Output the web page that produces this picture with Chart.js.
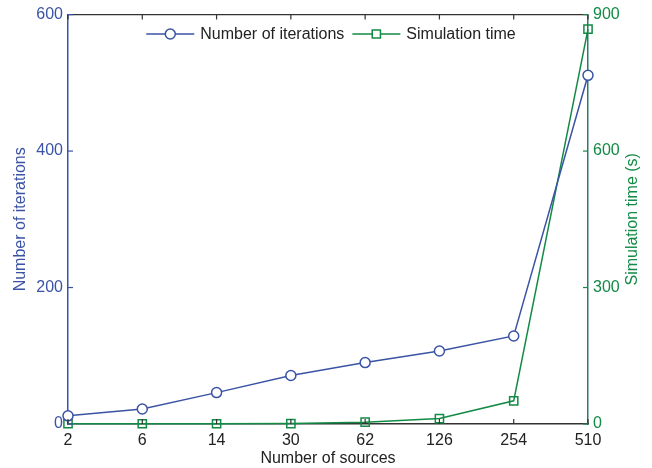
<!DOCTYPE html>
<html>
<head>
<meta charset="utf-8">
<script src="https://cdn.jsdelivr.net/npm/chart.js@4"></script>
<style>
  body { margin: 0; background: #fff; }
  #wrap { width: 652px; height: 468px; }
</style>
</head>
<body>
<div id="wrap"><canvas id="chart" width="652" height="468"></canvas></div>
<script>
// data
const sources = ['2', '6', '14', '30', '62', '126', '254', '510'];
const iterations = [12, 22, 46, 71, 90, 107, 129, 511];
const simTime = [0.5, 0.5, 0.5, 1, 4, 12, 51, 868];
const leftTicks = [0, 200, 400, 600];
const rightTicks = [0, 300, 600, 900];

const BLUE = '#3a53a4';
const GREEN = '#138a45';
const DARK = '#333333';
const FONT = 'Liberation Sans, Arial, sans-serif';

// inward tick marks, top frame line, legend and right axis title
const framePlugin = {
    id: 'frame',
    afterDraw(chart) {
        const ctx = chart.ctx;
        const a = chart.chartArea;
        const x = chart.scales.x, y = chart.scales.y, y1 = chart.scales.y1;
        ctx.save();
        ctx.lineWidth = 1.2;

        // top border
        ctx.strokeStyle = DARK;
        ctx.beginPath();
        ctx.moveTo(a.left, a.top);
        ctx.lineTo(a.right, a.top);
        ctx.stroke();

        // x ticks, bottom and top
        sources.forEach((s, i) => {
            const px = x.getPixelForValue(i);
            ctx.beginPath();
            ctx.moveTo(px, a.bottom);
            ctx.lineTo(px, a.bottom - 5);
            ctx.moveTo(px, a.top);
            ctx.lineTo(px, a.top + 5);
            ctx.stroke();
        });

        ctx.strokeStyle = BLUE;
        leftTicks.forEach(v => {
            const py = y.getPixelForValue(v);
            ctx.beginPath();
            ctx.moveTo(a.left, py);
            ctx.lineTo(a.left + 5, py);
            ctx.stroke();
        });

        ctx.strokeStyle = GREEN;
        rightTicks.forEach(v => {
            const py = y1.getPixelForValue(v);
            ctx.beginPath();
            ctx.moveTo(a.right, py);
            ctx.lineTo(a.right - 5, py);
            ctx.stroke();
        });

        // right axis title, reading bottom to top
        ctx.fillStyle = GREEN;
        ctx.font = '16px ' + FONT;
        ctx.textAlign = 'center';
        ctx.textBaseline = 'middle';
        ctx.translate(633, (a.top + a.bottom) / 2);
        ctx.rotate(-Math.PI / 2);
        ctx.fillText('Simulation time (s)', 0, 0);
        ctx.setTransform(1, 0, 0, 1, 0, 0);

        // legend
        const lineLen = 48, gap = 6, itemGap = 8;
        const items = chart.data.datasets.map(ds => ({
            ds, w: ctx.measureText(ds.label).width
        }));
        const total = items.reduce((t, it) => t + lineLen + gap + it.w, 0) + itemGap * (items.length - 1);
        let lx = (a.left + a.right) / 2 - total / 2 + 3;
        const ly = 34;
        ctx.textAlign = 'left';
        items.forEach(it => {
            const ds = it.ds;
            ctx.strokeStyle = ds.borderColor;
            ctx.lineWidth = ds.borderWidth;
            ctx.beginPath();
            ctx.moveTo(lx, ly);
            ctx.lineTo(lx + lineLen, ly);
            ctx.stroke();
            ctx.fillStyle = '#ffffff';
            ctx.lineWidth = ds.pointBorderWidth;
            Chart.helpers.drawPoint(ctx, {
                pointStyle: ds.pointStyle,
                radius: ds.pointRadius,
                borderWidth: ds.pointBorderWidth,
                rotation: 0
            }, lx + lineLen / 2, ly);
            ctx.fillStyle = '#222';
            ctx.fillText(ds.label, lx + lineLen + gap, ly + 1);
            lx += lineLen + gap + it.w + itemGap;
        });
        ctx.restore();
    }
};

new Chart(document.getElementById('chart'), {
    type: 'line',
    data: {
        labels: sources,
        datasets: [{
            label: 'Number of iterations',
            data: iterations,
            yAxisID: 'y',
            borderColor: BLUE,
            backgroundColor: '#ffffff',
            borderWidth: 1.5,
            pointStyle: 'circle',
            pointRadius: 5,
            pointBorderWidth: 1.5,
            pointBackgroundColor: '#ffffff',
            tension: 0,
            clip: false
        }, {
            label: 'Simulation time',
            data: simTime,
            yAxisID: 'y1',
            borderColor: GREEN,
            backgroundColor: 'rgba(0,0,0,0)',
            borderWidth: 1.5,
            pointStyle: 'rect',
            pointRadius: 5.8,
            pointBorderWidth: 1.5,
            pointBackgroundColor: 'rgba(0,0,0,0)',
            tension: 0,
            clip: false
        }]
    },
    options: {
        responsive: false,
        animation: false,
        layout: { padding: { top: 14, left: 0, right: 0, bottom: 0 } },
        plugins: {
            legend: { display: false },
            tooltip: { enabled: false }
        },
        scales: {
            x: {
                type: 'category',
                offset: false,
                grid: { display: false, drawTicks: false },
                border: { display: true, color: DARK, width: 1.5 },
                ticks: { color: '#222', font: { family: FONT, size: 16 }, padding: 7, maxRotation: 0, autoSkip: false },
                title: { display: true, text: 'Number of sources', color: '#222', font: { family: FONT, size: 16 }, padding: 0 },
                afterFit: s => { s.height = 44; }
            },
            y: {
                position: 'left',
                min: 0, max: 600,
                afterBuildTicks: s => { s.ticks = leftTicks.map(v => ({ value: v })); },
                grid: { display: false, drawTicks: false },
                border: { display: true, color: BLUE, width: 1.5 },
                ticks: { color: BLUE, font: { family: FONT, size: 16 }, padding: 5 },
                title: { display: true, text: 'Number of iterations', color: BLUE, font: { family: FONT, size: 16 }, padding: { top: 11, bottom: 0 } },
                afterFit: s => { s.width = 68; }
            },
            y1: {
                position: 'right',
                min: 0, max: 900,
                afterBuildTicks: s => { s.ticks = rightTicks.map(v => ({ value: v })); },
                grid: { display: false, drawTicks: false },
                border: { display: true, color: '#2b7a6b', width: 1.5 },
                ticks: { color: GREEN, font: { family: FONT, size: 16 }, padding: 5 },
                title: { display: false },
                afterFit: s => { s.width = 64; }
            }
        }
    },
    plugins: [framePlugin]
});
</script>
</body>
</html>
